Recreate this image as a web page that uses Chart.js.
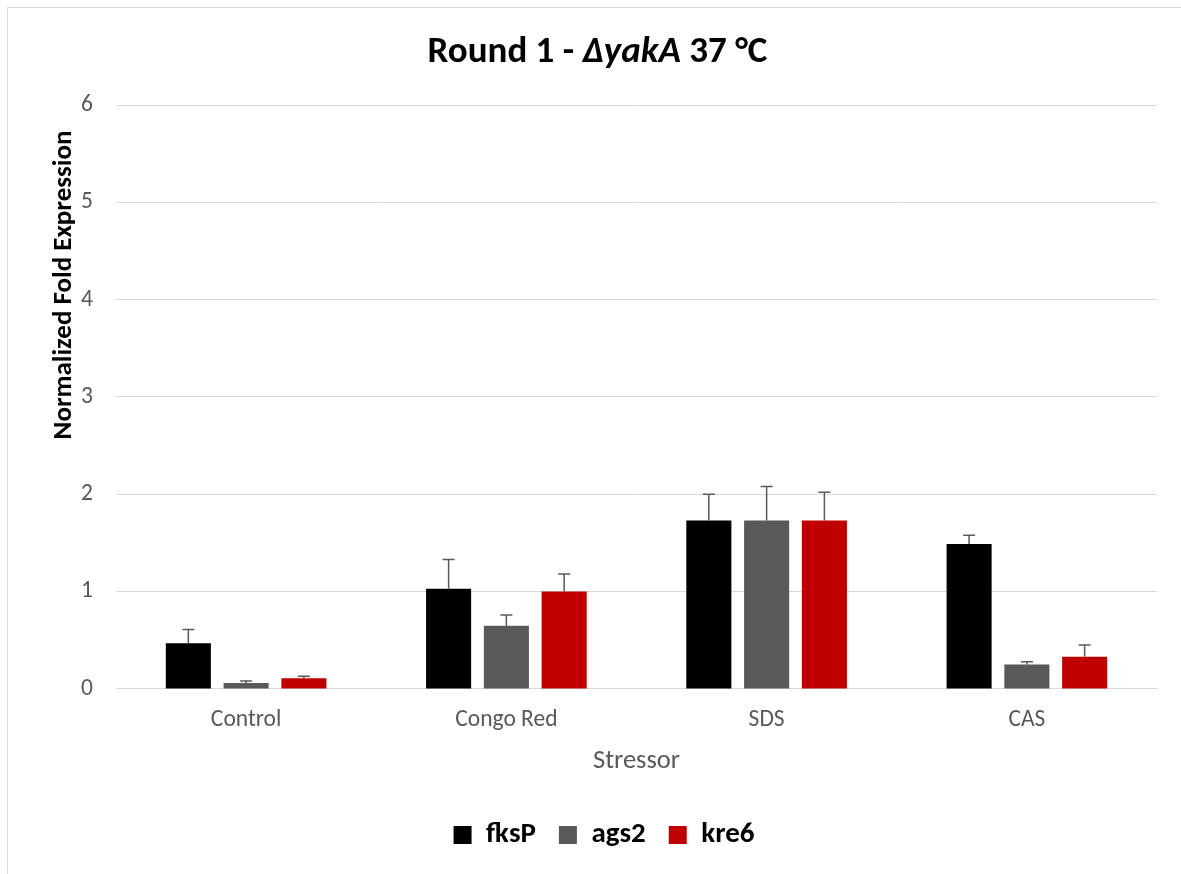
<!DOCTYPE html>
<html>
<head>
<meta charset="utf-8">
<script src="https://cdn.jsdelivr.net/npm/chart.js@4.4.1/dist/chart.umd.min.js"></script>
<style>
body { margin: 0; background: #fff; }
#box { position: absolute; left: 7px; top: 7px; width: 1174px; height: 867px;
  border-top: 1px solid #d9d9d9; border-left: 1px solid #d9d9d9; }
</style>
</head>
<body>
<div id="box"><canvas id="myChart" width="1173" height="866"></canvas></div>
<script>
var categories = ['Control', 'Congo Red', 'SDS', 'CAS'];
var fksP = [0.47, 1.03, 1.73, 1.49];
var ags2 = [0.06, 0.65, 1.73, 0.25];
var kre6 = [0.11, 1.00, 1.73, 0.33];
var fksPErr = [0.14, 0.30, 0.27, 0.09];
var ags2Err = [0.02, 0.11, 0.35, 0.03];
var kre6Err = [0.02, 0.18, 0.29, 0.12];
var yMin = 0, yMax = 6, yStep = 1;

var FONT = 'Carlito, Lato, "Open Sans", sans-serif';
Chart.defaults.font.family = FONT;

// error bars, positive side only
var errorBars = {
    id: 'errorBars',
    afterDatasetsDraw: function (chart) {
        var ctx = chart.ctx;
        var y = chart.scales.y;
        ctx.save();
        ctx.strokeStyle = '#595959';
        ctx.lineWidth = 1.5;
        chart.data.datasets.forEach(function (ds, i) {
            var meta = chart.getDatasetMeta(i);
            meta.data.forEach(function (bar, j) {
                var top = y.getPixelForValue(ds.data[j] + ds.errors[j]);
                ctx.beginPath();
                ctx.moveTo(bar.x, bar.y);
                ctx.lineTo(bar.x, top);
                ctx.moveTo(bar.x - 6, top);
                ctx.lineTo(bar.x + 6, top);
                ctx.stroke();
            });
        });
        ctx.restore();
    }
};

// chart title (italic gene name) and y axis title, placed like the excel original
var texts = {
    id: 'texts',
    afterDraw: function (chart) {
        var ctx = chart.ctx;
        var parts = [
            ['Round 1 - ', 'bold 37px ' + FONT],
            ['\u0394yakA', 'italic bold 37px ' + FONT],
            [' 37 \u00b0C', 'bold 37px ' + FONT]
        ];
        ctx.save();
        ctx.fillStyle = '#000';
        ctx.textBaseline = 'middle';
        var total = 0;
        parts.forEach(function (p) { ctx.font = p[1]; total += ctx.measureText(p[0]).width; });
        var x = chart.width / 2 + 3 - total / 2;
        parts.forEach(function (p) {
            ctx.font = p[1];
            ctx.fillText(p[0], x, 45);
            x += ctx.measureText(p[0]).width;
        });

        ctx.translate(56, 277);
        ctx.rotate(-Math.PI / 2);
        ctx.textAlign = 'center';
        ctx.font = 'bold 27px ' + FONT;
        ctx.fillText('Normalized Fold Expression', 0, 0);
        ctx.restore();
    }
};

var ctx = document.getElementById('myChart').getContext('2d');
var myChart = new Chart(ctx, {
    type: 'bar',
    data: {
        labels: categories,
        datasets: [
            { label: 'fksP', data: fksP, errors: fksPErr, backgroundColor: '#000000' },
            { label: 'ags2', data: ags2, errors: ags2Err, backgroundColor: '#595959' },
            { label: 'kre6', data: kre6, errors: kre6Err, backgroundColor: '#c00000' }
        ]
    },
    options: {
        responsive: false,
        animation: false,
        devicePixelRatio: 1,
        categoryPercentage: 0.666,
        barPercentage: 0.78,
        layout: { padding: { top: 97, right: 24, bottom: 14.5, left: 43 } },
        plugins: {
            title: { display: false },
            tooltip: { enabled: false },
            legend: {
                position: 'bottom',
                labels: {
                    boxWidth: 18, boxHeight: 18, padding: 23,
                    color: '#000',
                    font: { size: 29, weight: 'bold' }
                }
            }
        },
        scales: {
            x: {
                grid: { display: false },
                border: { display: true, color: '#d9d9d9' },
                ticks: { color: '#595959', font: { size: 23.5 }, padding: 9 },
                title: { display: true, text: 'Stressor', color: '#595959',
                    font: { size: 26.5 }, padding: { top: 2, bottom: 20.6 } }
            },
            y: {
                min: yMin, max: yMax,
                ticks: { stepSize: yStep, color: '#595959', font: { size: 23.5 }, padding: 23 },
                grid: { color: '#d9d9d9', lineWidth: 1, drawTicks: false },
                border: { display: false },
                afterFit: function (scale) { scale.width = 65; }
            }
        }
    },
    plugins: [errorBars, texts]
});
</script>
</body>
</html>
